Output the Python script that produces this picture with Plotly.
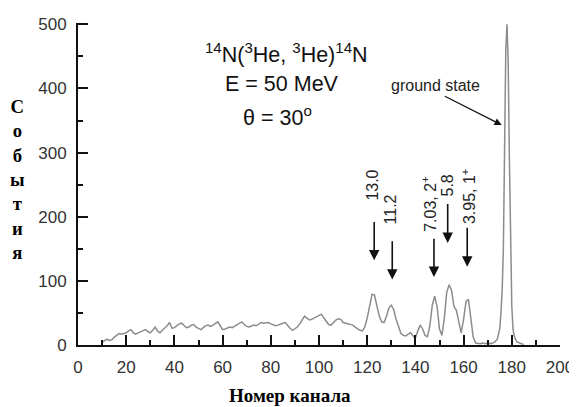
import plotly.graph_objects as go

# channel numbers and counts
channels = list(range(10, 176)) + [175.5, 176, 176.5, 177, 177.5, 178, 178.5, 179, 179.5, 180, 180.5, 181, 182, 183, 184, 185]
counts = [
    4, 6, 9, 7, 8, 12, 15, 18, 17, 18,          # 10-19
    19, 22, 24, 19, 17, 19, 21, 22, 24, 21,     # 20-29
    19, 23, 28, 22, 19, 23, 26, 30, 35, 26,     # 30-39
    27, 30, 33, 34, 30, 27, 28, 31, 32, 28,     # 40-49
    26, 24, 27, 30, 31, 29, 31, 34, 36, 30,     # 50-59
    24, 25, 27, 28, 27, 29, 31, 34, 36, 32,     # 60-69
    29, 28, 30, 31, 30, 32, 35, 34, 35, 35,     # 70-79
    33, 32, 30, 31, 33, 34, 35, 30, 26, 23,     # 80-89
    25, 28, 33, 40, 45, 42, 39, 40, 42, 45,     # 90-99
    47, 48, 42, 36, 32, 31, 35, 39, 41, 40,     # 100-109
    35, 34, 33, 32, 31, 28, 25, 23, 22, 28,     # 110-119
    42, 63, 79, 78, 62, 45, 36, 35, 45, 58,     # 120-129
    62, 55, 40, 28, 18, 15, 14, 17, 19, 14,     # 130-139
    11, 22, 31, 25, 15, 13, 30, 62, 76, 60,     # 140-149
    25, 15, 42, 82, 94, 85, 60, 54, 35, 19,     # 150-159
    40, 68, 71, 45, 12, 3, 2, 2, 3, 2,          # 160-169
    3, 2, 3, 5, 9, 25,                          # 170-175
    50, 85, 150, 330, 460, 500, 440, 290, 140, 60, 25, 14, 5, 3, 2, 1,
]

x_ticks = [0, 20, 40, 60, 80, 100, 120, 140, 160, 180, 200]
y_ticks = [0, 100, 200, 300, 400, 500]

# level labels: (text, text_x, text_y, arrow_x, arrow_tail_y, arrow_tip_y)
level_text = ["13.0", "11.2", "7.03, 2<sup>+</sup>", "5.8", "3.95, 1<sup>+</sup>"]
level_text_x = [122.4, 129.8, 145.6, 153.2, 162.2]
level_text_y = [250, 211, 220, 249, 232]
arrow_x = [122.9, 130.4, 147.7, 153.4, 161.5]
arrow_tail = [194, 164, 168, 222, 185]
arrow_tip = [132, 102, 106, 159, 122]

fig = go.Figure()
fig.add_trace(go.Scatter(x=channels, y=counts, mode="lines",
                         line=dict(color="#8c8c8c", width=1.5), hoverinfo="skip"))

ann = []
for t, tx, ty in zip(level_text, level_text_x, level_text_y):
    ann.append(dict(x=tx, y=ty, xref="x", yref="y", text=t, showarrow=False, textangle=-90,
                    font=dict(family="Liberation Sans", size=16, color="#222")))
for axx, tail, tip in zip(arrow_x, arrow_tail, arrow_tip):
    ann.append(dict(x=axx, y=tip, ax=axx, ay=tail, xref="x", yref="y", axref="x", ayref="y",
                    text="", showarrow=True, arrowhead=2, arrowsize=1.3, arrowwidth=1.6,
                    arrowcolor="#111"))
# ground state
ann.append(dict(x=148.5, y=404, xref="x", yref="y", text="ground state", showarrow=False,
                font=dict(family="Liberation Sans", size=16, color="#222")))
ann.append(dict(x=175.8, y=343, ax=151.6, ay=389, xref="x", yref="y", axref="x", ayref="y",
                text="", showarrow=True, arrowhead=2, arrowsize=1.2, arrowwidth=1.2,
                arrowcolor="#111"))
# reaction text
tfont = dict(family="Liberation Sans", size=21.5, color="#111")
ann.append(dict(x=86.7, y=455, xref="x", yref="y", showarrow=False, font=tfont,
                text="<sup>14</sup>N(<sup>3</sup>He, <sup>3</sup>He)<sup>14</sup>N"))
ann.append(dict(x=84.6, y=407, xref="x", yref="y", showarrow=False, font=tfont,
                text="E = 50 MeV"))
ann.append(dict(x=82.6, y=357, xref="x", yref="y", showarrow=False, font=tfont,
                text="θ = 30<sup>o</sup>"))
# axis titles
ann.append(dict(x=-0.1245, y=0.514, xref="paper", yref="paper", showarrow=False,
                xanchor="center", yanchor="middle",
                text="С<br>о<br>б<br>ы<br>т<br>и<br>я",
                font=dict(family="Liberation Serif", size=18.7, color="#000", weight="bold")))
ann.append(dict(x=0.44, y=-0.158, xref="paper", yref="paper", showarrow=False,
                xanchor="center", yanchor="middle", text="Номер канала",
                font=dict(family="Liberation Serif", size=19, color="#000", weight="bold")))

# page body has an 8px margin, so the figure is offset by (8, 8)
fig.update_layout(
    width=569, height=399,
    margin=dict(l=70, r=17, t=15, b=62, autoexpand=False),
    paper_bgcolor="white", plot_bgcolor="white",
    showlegend=False,
    annotations=ann,
    xaxis=dict(range=[0, 200], tickvals=x_ticks, ticks="inside", ticklen=10, tickwidth=2,
               tickcolor="#111", showline=True, linecolor="#111", linewidth=2,
               showgrid=False, zeroline=False, ticklabelstandoff=6, automargin=False,
               tickfont=dict(family="Liberation Sans", size=17, color="#333"),
               minor=dict(dtick=10, ticks="inside", ticklen=5, tickwidth=2, tickcolor="#111", showgrid=False)),
    yaxis=dict(range=[0, 502], tickvals=y_ticks, ticks="inside", ticklen=10, tickwidth=2,
               tickcolor="#111", showline=True, linecolor="#111", linewidth=2,
               showgrid=False, zeroline=False, ticklabelstandoff=6, automargin=False,
               tickfont=dict(family="Liberation Sans", size=17, color="#333"),
               minor=dict(dtick=50, ticks="inside", ticklen=5, tickwidth=2, tickcolor="#111", showgrid=False)),
)

fig.write_html("out.html")
